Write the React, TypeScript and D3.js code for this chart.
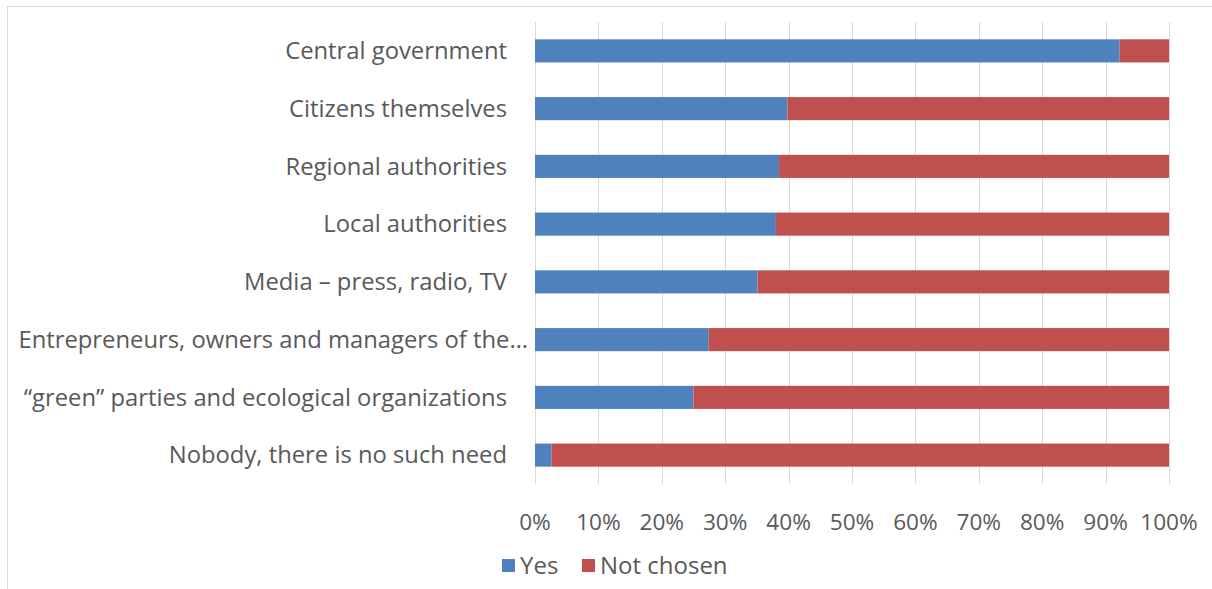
import React from "react";
import * as d3 from "d3";

const categories = [
  "Central government",
  "Citizens themselves",
  "Regional authorities",
  "Local authorities",
  "Media – press, radio, TV",
  "Entrepreneurs, owners and managers of the…",
  "“green” parties and ecological organizations",
  "Nobody, there is no such need",
];
const yesValues = [92.2, 39.8, 38.5, 38.0, 35.1, 27.4, 25.0, 2.6];
const notChosenValues = yesValues.map((v) => 100 - v);
const seriesNames = ["Yes", "Not chosen"];
const seriesColors = ["#4F81BD", "#C0504D"];
const tickValues = [0, 10, 20, 30, 40, 50, 60, 70, 80, 90, 100];

const W = 1212;
const H = 589;
const plotLeft = 535;
const plotRight = 1169;
const plotTop = 22;
const plotBottom = 484;
const FONT = "'Open Sans', 'DejaVu Sans', sans-serif";
const TEXT = "#595959";

export default function App() {
  const x = d3.scaleLinear().domain([0, 100]).range([plotLeft, plotRight]);
  const y = d3
    .scaleBand<string>()
    .domain(categories)
    .range([plotTop, plotBottom])
    .paddingInner(0.6)
    .paddingOuter(0.3);

  const rows = categories.map((c, i) => ({
    c,
    segs: [
      { s: 0, x0: 0, x1: yesValues[i] },
      { s: 1, x0: yesValues[i], x1: yesValues[i] + notChosenValues[i] },
    ],
  }));

  return (
    <div style={{ position: "absolute", left: 0, top: 0 }}>
      <svg width={W} height={H} style={{ display: "block", background: "#fff" }}>
        <rect x={7.5} y={6.5} width={W + 10} height={H + 10} fill="#fff" stroke="#D9D9D9" strokeWidth={1} />
        {tickValues.map((t) => (
          <line
            key={"g" + t}
            x1={Math.round(x(t)) + 0.5}
            x2={Math.round(x(t)) + 0.5}
            y1={plotTop}
            y2={plotBottom}
            stroke="#D9D9D9"
            strokeWidth={1}
          />
        ))}
        {rows.map((r) =>
          r.segs.map((sg) => (
            <rect
              key={r.c + sg.s}
              x={x(sg.x0)}
              y={y(r.c)!}
              width={x(sg.x1) - x(sg.x0)}
              height={y.bandwidth()}
              fill={seriesColors[sg.s]}
            />
          ))
        )}
        {categories.map((c) => (
          <text
            key={"l" + c}
            x={c.endsWith("…") ? plotLeft - 7 : plotLeft - 28}
            y={y(c)! + y.bandwidth() / 2}
            dy="0.35em"
            textAnchor="end"
            fontFamily={FONT}
            fontSize={23.8}
            fill={TEXT}
          >
            {c}
          </text>
        ))}
        {tickValues.map((t) => (
          <text
            key={"t" + t}
            x={x(t)}
            y={522}
            dy="0.35em"
            textAnchor="middle"
            fontFamily={FONT}
            fontSize={22.6}
            fill={TEXT}
          >
            {t + "%"}
          </text>
        ))}
        {seriesNames.map((s, i) => {
          const lx = i === 0 ? 502 : 582;
          return (
            <g key={s}>
              <rect x={lx} y={559} width={13} height={13} fill={seriesColors[i]} />
              <text x={lx + 18} y={566} dy="0.35em" fontFamily={FONT} fontSize={24} fill={TEXT}>
                {s}
              </text>
            </g>
          );
        })}
      </svg>
    </div>
  );
}
